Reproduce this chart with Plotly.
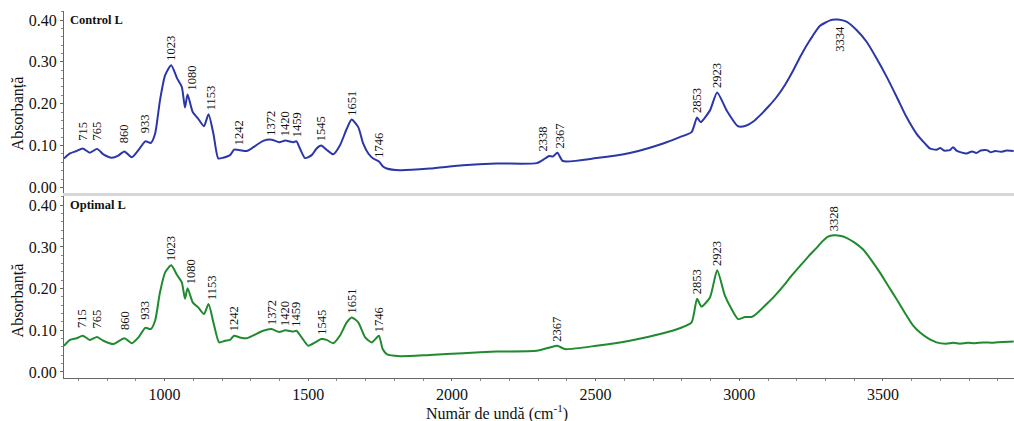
import numpy as np
import plotly.graph_objects as go

# FTIR spectra (wavenumber in cm-1, absorbance)
wn_control = [650, 671, 694, 715, 740, 765, 787, 816, 839, 860, 886, 909, 933, 952, 967, 984,
              1002, 1023, 1044, 1060, 1071, 1080, 1098, 1117, 1137, 1153, 1170, 1187, 1204, 1228,
              1242, 1262, 1286, 1309, 1343, 1372, 1399, 1420, 1448, 1459, 1471, 1489, 1512, 1529,
              1545, 1564, 1587, 1610, 1634, 1651, 1674, 1691, 1709, 1726, 1746, 1760, 1773, 1819,
              1923, 2039, 2155, 2295, 2324, 2338, 2352, 2367, 2386, 2503, 2619, 2735, 2793, 2834,
              2853, 2865, 2898, 2923, 2956, 2996, 3025, 3050, 3072, 3100, 3130, 3160, 3188, 3215,
              3246, 3281, 3316, 3334, 3344, 3373, 3408, 3443, 3478, 3513, 3548, 3582, 3617, 3646,
              3663, 3686, 3700, 3712, 3733, 3744, 3756, 3775, 3791, 3810, 3825, 3840, 3861, 3875,
              3890, 3910, 3930, 3955]
abs_control = [0.069, 0.081, 0.087, 0.093, 0.083, 0.092, 0.079, 0.071, 0.076, 0.086, 0.072, 0.089,
               0.110, 0.106, 0.128, 0.208, 0.268, 0.292, 0.260, 0.240, 0.191, 0.222, 0.180, 0.164,
               0.146, 0.175, 0.128, 0.069, 0.071, 0.077, 0.090, 0.089, 0.087, 0.096, 0.111, 0.114,
               0.108, 0.112, 0.108, 0.110, 0.093, 0.070, 0.077, 0.093, 0.100, 0.090, 0.079, 0.100,
               0.140, 0.162, 0.144, 0.105, 0.081, 0.069, 0.062, 0.050, 0.045, 0.041, 0.045, 0.053,
               0.057, 0.058, 0.069, 0.075, 0.074, 0.083, 0.063, 0.070, 0.082, 0.105, 0.120, 0.132,
               0.167, 0.156, 0.184, 0.227, 0.184, 0.146, 0.148, 0.158, 0.172, 0.192, 0.216, 0.246,
               0.280, 0.316, 0.352, 0.386, 0.399, 0.401, 0.401, 0.396, 0.376, 0.348, 0.308, 0.264,
               0.216, 0.168, 0.128, 0.105, 0.093, 0.090, 0.094, 0.088, 0.089, 0.096, 0.088, 0.083,
               0.081, 0.086, 0.082, 0.088, 0.089, 0.084, 0.087, 0.085, 0.088, 0.087]

wn_optimal = [650, 671, 694, 715, 740, 765, 787, 822, 860, 886, 909, 933, 952, 967, 984, 1002,
              1023, 1044, 1060, 1071, 1080, 1098, 1117, 1137, 1153, 1170, 1190, 1210, 1228, 1242,
              1262, 1286, 1309, 1343, 1372, 1399, 1420, 1448, 1459, 1477, 1500, 1524, 1545, 1564,
              1587, 1610, 1634, 1651, 1674, 1698, 1721, 1735, 1746, 1759, 1773, 1819, 1923, 2039,
              2155, 2295, 2341, 2367, 2393, 2503, 2619, 2735, 2793, 2834, 2853, 2868, 2898, 2923,
              2950, 2973, 2996, 3020, 3043, 3060, 3095, 3125, 3153, 3182, 3211, 3240, 3269, 3290,
              3309, 3328, 3350, 3373, 3400, 3431, 3460, 3489, 3518, 3547, 3576, 3605, 3630, 3652,
              3670, 3686, 3720, 3745, 3768, 3795, 3820, 3850, 3884, 3915, 3955]
abs_optimal = [0.063, 0.077, 0.081, 0.087, 0.077, 0.084, 0.075, 0.067, 0.081, 0.069, 0.083, 0.106,
               0.103, 0.123, 0.191, 0.239, 0.256, 0.232, 0.215, 0.176, 0.201, 0.167, 0.155, 0.139,
               0.163, 0.119, 0.071, 0.075, 0.077, 0.087, 0.083, 0.081, 0.088, 0.099, 0.103, 0.096,
               0.100, 0.097, 0.099, 0.083, 0.063, 0.071, 0.079, 0.077, 0.069, 0.087, 0.119, 0.131,
               0.119, 0.083, 0.071, 0.080, 0.087, 0.055, 0.043, 0.038, 0.041, 0.045, 0.049, 0.051,
               0.059, 0.063, 0.055, 0.063, 0.075, 0.093, 0.105, 0.119, 0.176, 0.157, 0.179, 0.244,
               0.183, 0.151, 0.127, 0.132, 0.132, 0.140, 0.163, 0.184, 0.206, 0.231, 0.254, 0.277,
               0.298, 0.314, 0.325, 0.328, 0.327, 0.322, 0.311, 0.294, 0.268, 0.239, 0.207, 0.175,
               0.142, 0.111, 0.094, 0.083, 0.076, 0.071, 0.068, 0.070, 0.068, 0.070, 0.069, 0.071,
               0.070, 0.072, 0.073]

# labelled band positions
peaks_control = [715, 765, 860, 933, 1023, 1080, 1153, 1242, 1372, 1420, 1459, 1545, 1651, 1746,
                 2338, 2367, 2853, 2923, 3334]
peaks_optimal = [715, 765, 860, 933, 1023, 1080, 1153, 1242, 1372, 1420, 1459, 1545, 1651, 1746,
                 2367, 2853, 2923, 3328]

x_ticks = [1000, 1500, 2000, 2500, 3000, 3500]
y_ticks = [0.0, 0.1, 0.2, 0.3, 0.4]

BLUE = "#2b37a8"
GREEN = "#1f8a2e"
SERIF = "Liberation Serif"

fig = go.Figure()
fig.add_trace(go.Scatter(x=wn_control, y=abs_control, mode="lines", xaxis="x", yaxis="y",
                         line=dict(color=BLUE, width=2, shape="spline", smoothing=0.6),
                         showlegend=False))
fig.add_trace(go.Scatter(x=wn_optimal, y=abs_optimal, mode="lines", xaxis="x2", yaxis="y2",
                         line=dict(color=GREEN, width=2, shape="spline", smoothing=0.6),
                         showlegend=False))

# small horizontal nudges for crowded labels
xshift = {1080: 4, 1153: 2, 1242: 5, 2338: -6, 2367: 3, 3334: 4}
extra_y = {715: 4, 765: 4, 860: 4, 933: 4}

annotations = []
for peaks, wn, ab, ax in [(peaks_control, wn_control, abs_control, "1"),
                          (peaks_optimal, wn_optimal, abs_optimal, "2")]:
    xr = "x" if ax == "1" else "x2"
    yr = "y" if ax == "1" else "y2"
    for p in peaks:
        yv = float(np.interp(p, wn, ab))
        below = (p == 3334)
        annotations.append(dict(
            x=p, y=yv, xref=xr, yref=yr, text=str(p), textangle=-90, showarrow=False,
            font=dict(family=SERIF, size=12.5, color="#111"),
            xanchor="center", yanchor="top" if below else "bottom",
            xshift=xshift.get(p, 0) if ax == "1" else (3 if p in (1080, 1153) else 0),
            yshift=-4 if below else 2 + extra_y.get(p, 0),
        ))

# panel names
annotations.append(dict(x=0.004, y=0.976, xref="paper", yref="paper", text="<b>Control L</b>",
                        showarrow=False, xanchor="left", yanchor="middle",
                        font=dict(family=SERIF, size=12.5, color="#111")))
annotations.append(dict(x=0.004, y=0.471, xref="paper", yref="paper", text="<b>Optimal L</b>",
                        showarrow=False, xanchor="left", yanchor="middle",
                        font=dict(family=SERIF, size=12.5, color="#111")))
# axis titles
for yc in (0.722, 0.2125):
    annotations.append(dict(x=-0.048, y=yc, xref="paper", yref="paper", text="Absorbanță",
                            textangle=-90, showarrow=False, xanchor="center", yanchor="middle",
                            font=dict(family=SERIF, size=16, color="#111")))
annotations.append(dict(x=0.456, y=-0.093, xref="paper", yref="paper",
                        text="Număr de undă (cm<sup>-1</sup>)", showarrow=False,
                        xanchor="center", yanchor="middle",
                        font=dict(family=SERIF, size=16, color="#111")))

x_range = [650, 3956]
tick_font = dict(family=SERIF, size=16, color="#111")
yaxis_common = dict(range=[-0.0144, 0.4215], tickvals=y_ticks, tickformat=".2f",
                    showgrid=False, zeroline=False, showline=True, linecolor="#666",
                    linewidth=1, ticks="outside", ticklen=3, tickcolor="#666",
                    tickfont=tick_font,
                    minor=dict(dtick=0.02, ticks="outside", ticklen=2, tickcolor="#888"))

fig.update_layout(
    width=1014, height=421,
    margin=dict(l=64, r=0, t=11, b=43),
    paper_bgcolor="white", plot_bgcolor="white",
    xaxis=dict(range=x_range, anchor="y", showticklabels=False, showgrid=False,
               zeroline=False, showline=True, linecolor="#d8d8d8", linewidth=3, ticks=""),
    yaxis=dict(domain=[0.503, 1.0], anchor="x", **yaxis_common),
    xaxis2=dict(range=x_range, anchor="y2", tickvals=x_ticks, showgrid=False, zeroline=False,
                showline=True, linecolor="#666", linewidth=1, ticks="outside", ticklen=2,
                tickcolor="#666", tickfont=tick_font,
                minor=dict(dtick=100, ticks="outside", ticklen=2, tickcolor="#888")),
    yaxis2=dict(domain=[0.0, 0.495], anchor="x2", **yaxis_common),
    annotations=annotations,
)

fig.write_html("out.html")
